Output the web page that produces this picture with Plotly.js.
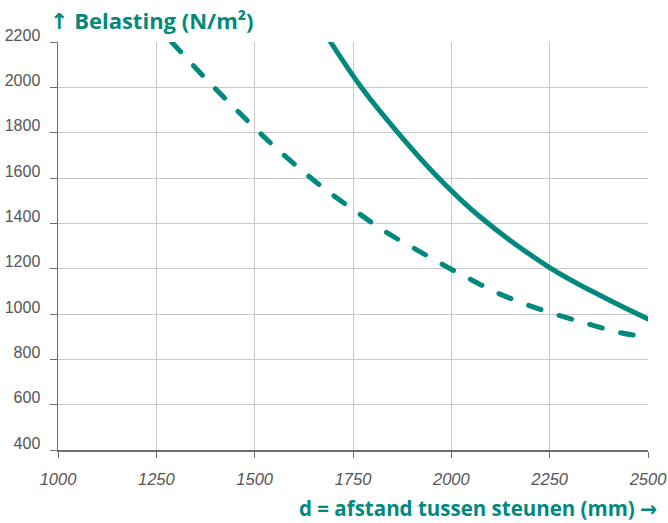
<!DOCTYPE html>
<html>
<head>
<meta charset="utf-8">
<script src="https://cdn.plot.ly/plotly-3.0.1.min.js"></script>
<style>
  html, body { margin: 0; padding: 0; background: #fff; }
  #chart { width: 668px; height: 523px; }
  .scatterlayer path.js-line { stroke-linecap: round; }
</style>
</head>
<body>
<div id="chart"></div>
<script>
// Solid curve
const solidX = [1693, 1771, 1864, 1962, 2072, 2250, 2385, 2500];
const solidY = [2200, 2000, 1800, 1610, 1430, 1205, 1076, 978];
// Dashed curve
const dashX = [1289, 1373, 1458, 1547, 1636, 1702, 1767, 1835, 1902, 1975, 2047, 2121, 2195, 2271, 2350, 2428, 2474];
const dashY = [2200, 2043, 1893, 1744, 1610, 1521, 1441, 1360, 1293, 1221, 1154, 1090, 1039, 995, 955, 918, 904];

const xTicks = [1000, 1250, 1500, 1750, 2000, 2250, 2500];
const yTicks = [400, 600, 800, 1000, 1200, 1400, 1600, 1800, 2000, 2200];

const yTitle = '<span style="font-family:DejaVu Sans">↑</span> Belasting (N/m²)';
const xTitle = 'd = afstand tussen steunen (mm) <span style="font-family:DejaVu Sans">→</span>';

const teal = "#00897c";

const traces = [
  { x: solidX, y: solidY, mode: "lines", type: "scatter",
    line: { color: teal, width: 5, shape: "spline", smoothing: 1 }, hoverinfo: "skip" },
  { x: dashX, y: dashY, mode: "lines", type: "scatter",
    line: { color: teal, width: 5, shape: "spline", smoothing: 1, dash: "13px,19px" }, hoverinfo: "skip" }
];

const layout = {
  width: 668, height: 523,
  margin: { l: 58, r: 20, t: 42, b: 73, pad: 0 },
  paper_bgcolor: "#fff", plot_bgcolor: "#fff",
  showlegend: false,
  xaxis: {
    range: [1000, 2500], tickvals: xTicks, ticktext: xTicks.map(String),
    showgrid: true, gridcolor: "#c8c8c8", gridwidth: 1,
    showline: true, linecolor: "#6e6e6e", linewidth: 1.5,
    ticks: "outside", ticklen: 6, tickcolor: "#6e6e6e", tickwidth: 1,
    zeroline: false, ticklabelstandoff: 8,
    tickfont: { family: "Liberation Sans, Arial, sans-serif", size: 16.5, color: "#555", style: "italic" }
  },
  yaxis: {
    range: [400, 2200], tickvals: yTicks, ticktext: yTicks.map(String),
    showgrid: true, gridcolor: "#c8c8c8", gridwidth: 1,
    showline: true, linecolor: "#6e6e6e", linewidth: 1.5,
    ticks: "outside", ticklen: 7, tickcolor: "#6e6e6e", tickwidth: 1,
    zeroline: false, ticklabelshift: -7, ticklabelstandoff: 6,
    tickfont: { family: "Liberation Sans, Arial, sans-serif", size: 16, color: "#555" }
  },
  annotations: [
    { text: yTitle, xref: "paper", yref: "paper", x: -0.017, y: 1.053,
      xanchor: "left", yanchor: "middle", showarrow: false,
      font: { family: "Open Sans, sans-serif", size: 22, color: teal, weight: "bold" } },
    { text: xTitle, xref: "paper", yref: "paper", x: 1.018, y: -0.142,
      xanchor: "right", yanchor: "middle", showarrow: false,
      font: { family: "Open Sans, sans-serif", size: 20.5, color: teal, weight: "bold" } }
  ]
};

Plotly.newPlot("chart", traces, layout, { staticPlot: true, displayModeBar: false });
</script>
</body>
</html>
